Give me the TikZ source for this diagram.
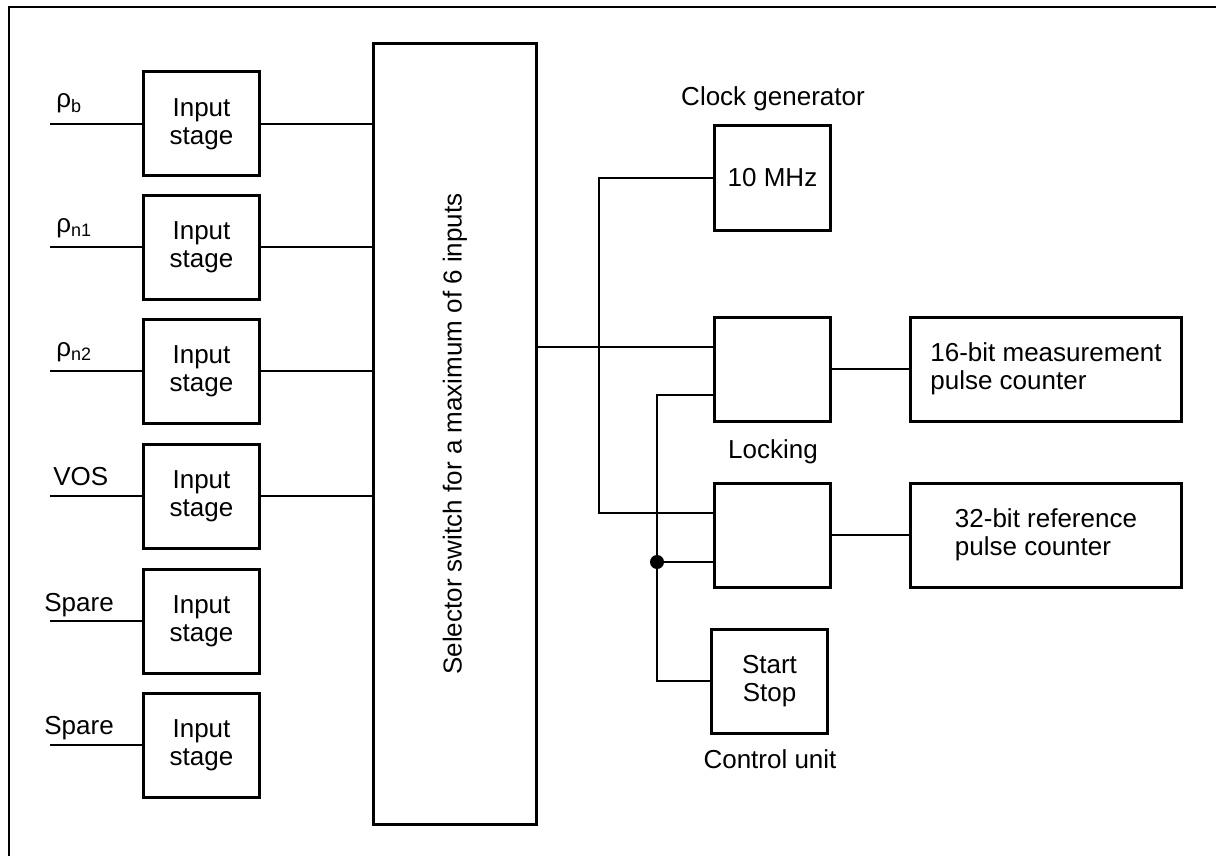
\documentclass[tikz,border=0pt]{standalone}
\usepackage{fontspec}
\setmainfont{Liberation Sans}
\usepackage{tikz}
\usetikzlibrary{positioning, calc}
\tikzset{
    block/.style={draw, line width=1.5pt, minimum width=58pt, minimum height=52pt,
        inner sep=0pt, align=center, font=\fontsize{13}{14}\selectfont},
    counter/.style={block, minimum width=135.5pt, align=left},
    selector/.style={draw, line width=1.5pt, minimum width=81.5pt, minimum height=390.5pt},
    blocklabel/.style={inner sep=0pt, font=\fontsize{13}{14}\selectfont},
    wire/.style={line width=1pt},
    thinwire/.style={line width=0.75pt},
    junction/.style={circle, fill=black, inner sep=0pt, minimum size=7pt}
}
\newcommand{\sig}[2]{#1\raisebox{-2pt}{\fontsize{9}{9}\selectfont #2}}

\begin{document}
\begin{tikzpicture}[x=0.5pt, y=-0.5pt]
    \useasboundingbox (0,0) rectangle (1216,856);
    % frame, cut off at the right and bottom
    \draw[line width=1.2pt] (9,856) -- (9,7) -- (1216,7);

    % ---------- Input stages ----------
    \node[block] (stage1) at (201.5,124) {Input\\stage};
    \node[block] (stage2) at (201.5,247) {Input\\stage};
    \node[block] (stage3) at (201.5,371) {Input\\stage};
    \node[block] (stage4) at (201.5,496) {Input\\stage};
    \node[block] (stage5) at (201.5,621) {Input\\stage};
    \node[block] (stage6) at (201.5,745) {Input\\stage};

    \coordinate (in1) at (50,124);
    \coordinate (in2) at (50,247);
    \coordinate (in3) at (50,371);
    \coordinate (in4) at (50,496);
    \coordinate (in5) at (50,621);
    \coordinate (in6) at (50,745);

    \node[blocklabel, anchor=base west] (lab1) at (56,108) {\sig{ρ}{b}};
    \node[blocklabel, anchor=base west] (lab2) at (56,232) {\sig{ρ}{n1}};
    \node[blocklabel, anchor=base west] (lab3) at (56,356) {\sig{ρ}{n2}};
    \node[blocklabel, anchor=base west] (lab4) at (53,485) {VOS};
    \node[blocklabel, anchor=base west] (lab5) at (44,611) {Spare};
    \node[blocklabel, anchor=base west] (lab6) at (44,734) {Spare};

    \draw[wire] (in1) -- (stage1.west);
    \draw[wire] (in2) -- (stage2.west);
    \draw[wire] (in3) -- (stage3.west);
    \draw[wire] (in4) -- (stage4.west);
    \draw[wire] (in5) -- (stage5.west);
    \draw[wire] (in6) -- (stage6.west);

    % ---------- Selector switch ----------
    \node[selector] (sel) at (455,434) {};
    \node[blocklabel, rotate=90] (sellab) at (sel.center) {Selector switch for a maximum of 6 inputs};

    \draw[wire] (stage1.east) -- (stage1.east -| sel.west);
    \draw[wire] (stage2.east) -- (stage2.east -| sel.west);
    \draw[wire] (stage3.east) -- (stage3.east -| sel.west);
    \draw[wire] (stage4.east) -- (stage4.east -| sel.west);

    % ---------- Clock, locking, counters ----------
    \node[block] (clk) at (772.5,178) {10 MHz};
    \node[blocklabel, anchor=base] (clklab) at (773,105) {Clock generator};

    \node[block] (lock1) at (772.5,369) {};
    \node[blocklabel, anchor=base] (locklab) at (773,458) {Locking};
    \node[block] (lock2) at (772.5,535) {};

    \node[counter] (cnt1) at (1046,369) {16-bit measurement\\pulse counter};
    \node[counter] (cnt2) at (1046,535) {32-bit reference\\pulse counter};

    \node[block] (ctrl) at (769.5,681) {Start\\Stop};
    \node[blocklabel, anchor=base] (ctrllab) at (770,768) {Control unit};

    \coordinate (selout) at ([yshift=11pt]lock1.west);
    \coordinate (clkin) at ([yshift=11pt]lock2.west);
    \coordinate (start1) at ([yshift=-13pt]lock1.west);
    \coordinate (start2) at ([yshift=-13.5pt]lock2.west);
    \coordinate (clkbus) at ([xshift=-57pt]clk.west);
    \coordinate (startbus) at ([xshift=-26.5pt]ctrl.west);

    \draw[wire] (sel.east |- selout) -- (selout);
    \draw[thinwire] (clk.west) -- (clkbus) |- (clkin);
    \draw[thinwire] (ctrl.west) -- (startbus) |- (start1);
    \node[junction] (jn) at (startbus |- start2) {};
    \draw[wire] (jn) -- (start2);

    \draw[wire] (lock1.east) -- (lock1.east -| cnt1.west);
    \draw[wire] (lock2.east) -- (lock2.east -| cnt2.west);
\end{tikzpicture}
\end{document}
